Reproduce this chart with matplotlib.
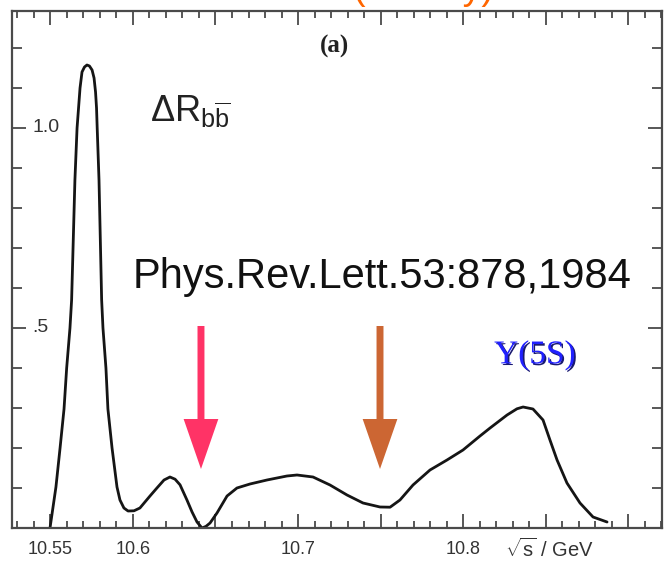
import matplotlib
matplotlib.use("Agg")
import matplotlib.pyplot as plt
import matplotlib.patheffects as pe
from matplotlib.ticker import MultipleLocator

plt.rcParams['mathtext.fontset'] = 'custom'
plt.rcParams['mathtext.rm'] = 'Liberation Sans'
plt.rcParams['mathtext.it'] = 'Liberation Sans:italic'
plt.rcParams['mathtext.bf'] = 'Liberation Sans:bold'

# ---- data ----
energy = [10.5497, 10.5533, 10.5558, 10.5582, 10.5598, 10.5618, 10.5628, 10.5648,
          10.5661, 10.5679, 10.5691, 10.5706, 10.5721, 10.5736, 10.5752, 10.5764,
          10.5773, 10.5779, 10.5783, 10.5794, 10.5810, 10.5818, 10.5836, 10.5848,
          10.5873, 10.5903, 10.5921, 10.5945,
          10.5970, 10.6006, 10.6042, 10.6103, 10.6145, 10.6188, 10.6224, 10.6255,
          10.6285, 10.6327, 10.6358, 10.6388, 10.6418, 10.6442, 10.6467, 10.6509,
          10.6570, 10.6630, 10.6709, 10.6812, 10.6933, 10.6994, 10.7091, 10.7194,
          10.7297, 10.7394, 10.7497, 10.7558, 10.7618, 10.7697, 10.7800, 10.7903,
          10.8000, 10.8103, 10.8164, 10.8267, 10.8327, 10.8364, 10.8424, 10.8485,
          10.8527, 10.8570, 10.8630, 10.8709, 10.8788, 10.8873]
delta_r = [0.0, 0.1025, 0.20, 0.2975, 0.40, 0.50, 0.57, 0.87,
           1.00, 1.10, 1.14, 1.1525, 1.1575, 1.155, 1.145, 1.125,
           1.09, 1.05, 1.00, 0.87, 0.57, 0.50, 0.40, 0.2975,
           0.20, 0.1025, 0.07, 0.05,
           0.0425, 0.043, 0.05, 0.08, 0.10, 0.12, 0.1275, 0.122,
           0.108, 0.07, 0.04, 0.015, 0.0, 0.004, 0.0125, 0.0375,
           0.08, 0.10, 0.11, 0.12, 0.13, 0.1325, 0.1275, 0.1075,
           0.0825, 0.0625, 0.0525, 0.052, 0.07, 0.1075, 0.145, 0.17,
           0.195, 0.23, 0.25, 0.2825, 0.298, 0.3025, 0.2975, 0.27,
           0.22, 0.17, 0.1125, 0.0625, 0.0275, 0.015]

x_tick_values = [10.55, 10.6, 10.7, 10.8]
x_tick_labels = ['10.55', '10.6', '10.7', '10.8']
y_tick_values = [1.0, 0.5]
y_tick_labels = ['1.0', '.5']

arrow_energies = [10.6412, 10.7497]
arrow_colors = ['#FF3366', '#CC6633']
arrow_top = 0.505
arrow_tip = 0.1475

# ---- figure ----
fig = plt.figure(figsize=(6.64, 5.64), dpi=100)
ax = fig.add_axes([12/664, 36/564, 650/664, 517/564])
ax.set_xlim(10.52667, 10.9206)
ax.set_ylim(0, 1.2925)

spine_col = '#4a4a4a'
for s in ax.spines.values():
    s.set_color(spine_col)
    s.set_linewidth(1.6)

ax.plot(energy, delta_r, color='#151515', lw=2.0, solid_joinstyle='round',
        solid_capstyle='round')

# ticks
ax.xaxis.set_major_locator(MultipleLocator(0.05))
ax.xaxis.set_minor_locator(MultipleLocator(0.01))
ax.yaxis.set_major_locator(MultipleLocator(0.5))
ax.yaxis.set_minor_locator(MultipleLocator(0.1))
ax.tick_params(which='both', direction='in', top=True, right=True,
               color=spine_col, width=1.3, labelbottom=False, labelleft=False)
ax.tick_params(which='major', length=10)
ax.tick_params(axis='x', which='minor', length=5)
ax.tick_params(axis='y', which='minor', length=7)

lab_font = dict(family='Liberation Sans', fontsize=13, color='#333333')
for v, t in zip(x_tick_values, x_tick_labels):
    ax.text(v, -0.053, t, ha='center', va='center', **lab_font)
ax.text(10.8255, -0.053, r'$\sqrt{\mathrm{s}}$ / GeV', ha='left', va='center',
        family='Liberation Sans', fontsize=14.5, color='#333333')
ylab_font = dict(family='Liberation Sans', fontsize=14, color='#333333')
for v, t in zip(y_tick_values, y_tick_labels):
    ax.text(0.031, v, t, transform=ax.get_yaxis_transform(), ha='left',
            va='center', **ylab_font)

# annotations
ax.text(10.6103, 1.015, r'$\Delta\mathrm{R}_{\mathrm{b}\overline{\mathrm{b}}}$',
        ha='left', va='baseline', fontsize=26, color='#222222',
        family='Liberation Sans')
ax.text(10.7224, 1.205, '(a)', ha='center', va='center', fontsize=18,
        fontweight='bold', family='Liberation Serif', color='#222222')
ax.text(10.7509, 0.628, 'Phys.Rev.Lett.53:878,1984', ha='center', va='center',
        fontsize=30, family='Liberation Sans', color='#111111')
ax.text(10.8436, 0.432, 'Y(5S)', ha='center', va='center', fontsize=24,
        family='Liberation Serif', color='#2020FF',
        path_effects=[pe.withSimplePatchShadow(offset=(1.2, -1.2),
                                               shadow_rgbFace='#000060',
                                               alpha=0.9)])

for xa, col in zip(arrow_energies, arrow_colors):
    ax.annotate('', xy=(xa, arrow_tip), xytext=(xa, arrow_top),
                arrowprops=dict(arrowstyle='simple,head_width=25,head_length=36,tail_width=5',
                                mutation_scale=1, color=col, lw=0,
                                shrinkA=0, shrinkB=0))

# cut-off title at the top edge (as in the reference)
fig.text(424/664, 1 + 1/564, '(Theory)', ha='center', va='baseline',
         fontsize=27, family='Liberation Sans', color='#FF6600')

fig.savefig('out.png', dpi=100)
